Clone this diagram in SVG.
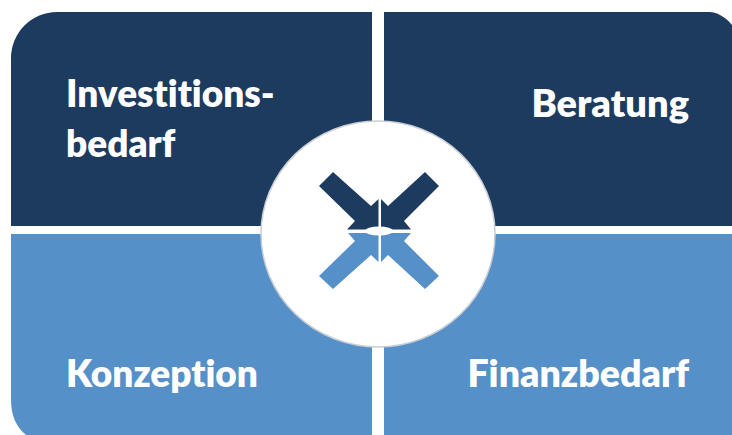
<svg xmlns="http://www.w3.org/2000/svg" width="732" height="435" viewBox="0 0 732 435">
<style>
.dark{fill:#1d3a5f}
.light{fill:#5590c8}
.t{font-family:"Lato","Open Sans",sans-serif;font-weight:800;font-size:37px;fill:#fff;font-variant-ligatures:none}
.w{font-size:37.500px}
.x{font-size:38px}
</style>
<rect width="732" height="435" fill="#fff"/>
<g id="investitionsbedarf">
<path class="dark" d="M11 226V58A46 46 0 0 1 57 12H372V226Z"/>
<text class="t" x="66" y="107">Investitions-</text>
<text class="t" x="66" y="157">bedarf</text>
</g>
<g id="beratung">
<path class="dark" d="M384 226V12H710C720 13 727 19 732 25V226Z"/>
<text class="t x" x="689" y="117" text-anchor="end">Beratung</text>
</g>
<g id="konzeption">
<path class="light" d="M11 234H372V435H26C16 427 11 415 11 400Z"/>
<text class="t" x="66" y="387">Konzeption</text>
</g>
<g id="finanzbedarf">
<rect class="light" x="384" y="234" width="348" height="201"/>
<text class="t w" x="689" y="387" text-anchor="end">Finanzbedarf</text>
</g>
<g id="center">
<ellipse cx="378" cy="234" rx="117" ry="113" fill="#fff" stroke="#c9ced4" stroke-width="1.500"/>
<polygon class="dark" points="333,172 319,186 355,221 347,229.500 378.500,229.500 378.500,199 371,206"/>
<polygon class="dark" points="425,172 439,186 404,221 411,229.500 381,229.500 381,199 388,206"/>
<polygon class="light" points="333,289 319,276 355,241 348,233 378.500,233 378.500,262 371,255"/>
<polygon class="light" points="425,289 439,276 404,241 411,233 381,233 381,262 388,255"/>
<ellipse cx="379" cy="231" rx="14" ry="4.500" fill="#fff"/>
</g>
<g id="connectors"/>
</svg>
